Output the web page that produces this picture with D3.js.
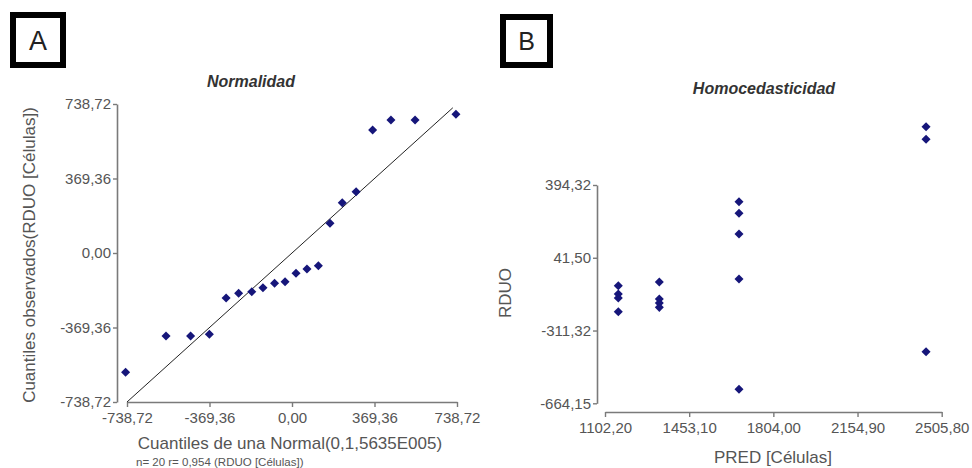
<!DOCTYPE html>
<html><head><meta charset="utf-8">
<script src="https://cdn.jsdelivr.net/npm/d3@7"></script>
<style>body{margin:0;background:#fff}svg{display:block}text{font-family:"Liberation Sans",Arial,sans-serif}</style>
</head><body><svg id="c" width="972" height="468"></svg>
<script>
// Panel A: Normal Q-Q plot
const qqTicks = [-738.72, -369.36, 0, 369.36, 738.72];
const qqTheoretical = [-745, -564, -454, -370, -295, -239, -180, -130, -78, -31, 18, 67, 118, 170, 225, 287, 361, 443, 551, 734];
const qqObserved = [-591, -411, -411, -403, -223, -200, -192, -172, -150, -142, -100, -79, -63, 147, 249, 304, 610, 659, 659, 688];
// Panel B: residuals vs predicted
const predTicks = [1102.20, 1453.10, 1804.00, 2154.90, 2505.80];
const rduoTicks = [-664.15, -311.32, 41.50, 394.32];
const predValues = [1157.6, 1157.6, 1157.6, 1157.6, 1328.6, 1328.6, 1328.6, 1328.6, 1660.8, 1660.8, 1660.8, 1660.8, 1660.8, 2440.5, 2440.5, 2440.5];
const rduoValues = [-94, -134, -154, -220, -76, -158, -178, -199, 313, 257, 157, -61, -596, 677, 616, -414];

const svg = d3.select("#c");
const loc = d3.formatLocale({decimal: ",", thousands: ".", grouping: [3], currency: ["", ""], minus: "-"});
const fmt = loc.format(".2f");
const markColor = "#16167a";
const axisColor = "#7a7a7a";
const labelColor = "#555555";
const diamond = d3.symbol().type(d3.symbolDiamond2).size(52);

function styleAxis(g) {
  g.selectAll(".domain").attr("stroke", axisColor).attr("stroke-width", 1.6);
  g.selectAll(".tick line").attr("stroke", axisColor).attr("stroke-width", 1.4);
  g.selectAll(".tick text").attr("fill", labelColor).style("font-size", "15px").style("font-family", "'Liberation Sans', Arial, sans-serif");
}

// Label boxes
function labelBox(x, y, w, h, letter, fs) {
  svg.append("rect").attr("x", x).attr("y", y).attr("width", w).attr("height", h)
    .attr("fill", "none").attr("stroke", "#000").attr("stroke-width", 6);
  svg.append("text").attr("x", x + w / 2).attr("y", y + h / 2 + fs * 0.36).attr("text-anchor", "middle")
    .style("font-size", fs + "px").attr("fill", "#222").text(letter);
}
labelBox(13, 15, 50, 50, "A", 27);
labelBox(503, 17, 47, 48, "B", 25);

// ---- Panel A ----
const xA = d3.scaleLinear().domain([-738.72, 738.72]).range([127, 457]);
const yA = d3.scaleLinear().domain([-738.72, 738.72]).range([402, 104]);

svg.append("g").attr("transform", "translate(117,0)")
  .call(d3.axisLeft(yA).tickValues(qqTicks).tickFormat(fmt).tickSize(4).tickSizeOuter(0).tickPadding(2))
  .call(styleAxis);
svg.append("g").attr("transform", "translate(0,402)")
  .call(d3.axisBottom(xA).tickValues(qqTicks).tickFormat(fmt).tickSize(5).tickSizeOuter(0).tickPadding(5))
  .call(styleAxis);

svg.append("line")
  .attr("x1", xA(-738.72)).attr("y1", yA(-738.72))
  .attr("x2", xA(720)).attr("y2", yA(720))
  .attr("stroke", "#222").attr("stroke-width", 1);

svg.append("g").selectAll("path").data(qqTheoretical).join("path")
  .attr("d", diamond)
  .attr("transform", (d, i) => `translate(${xA(d)},${yA(qqObserved[i])})`)
  .attr("fill", markColor);

svg.append("text").attr("x", 251).attr("y", 87).attr("text-anchor", "middle")
  .style("font-size", "16px").style("font-weight", "bold").style("font-style", "italic")
  .attr("fill", "#333").text("Normalidad");
svg.append("text").attr("x", 290).attr("y", 449).attr("text-anchor", "middle")
  .style("font-size", "17px").attr("fill", labelColor).text("Cuantiles de una Normal(0,1,5635E005)");
svg.append("text").attr("x", 136).attr("y", 466).attr("text-anchor", "start")
  .style("font-size", "11.5px").attr("fill", labelColor).text("n= 20 r= 0,954 (RDUO [Células])");
svg.append("text").attr("transform", "translate(35,255) rotate(-90)").attr("text-anchor", "middle")
  .style("font-size", "17px").attr("fill", labelColor).text("Cuantiles observados(RDUO [Células])");

// ---- Panel B ----
const xB = d3.scaleLinear().domain([1102.2, 2505.8]).range([605, 941.7]);
const yB = d3.scaleLinear().domain([-664.15, 394.32]).range([403.3, 185]);

svg.append("g").attr("transform", "translate(597,0)")
  .call(d3.axisLeft(yB).tickValues(rduoTicks).tickFormat(fmt).tickSize(4).tickSizeOuter(0).tickPadding(2))
  .call(styleAxis);
svg.append("g").attr("transform", "translate(0,412)")
  .call(d3.axisBottom(xB).tickValues(predTicks).tickFormat(fmt).tickSize(5).tickSizeOuter(0).tickPadding(5))
  .call(styleAxis);

svg.append("g").selectAll("path").data(predValues).join("path")
  .attr("d", diamond)
  .attr("transform", (d, i) => `translate(${xB(d)},${yB(rduoValues[i])})`)
  .attr("fill", markColor);

svg.append("text").attr("x", 764).attr("y", 94).attr("text-anchor", "middle")
  .style("font-size", "16px").style("font-weight", "bold").style("font-style", "italic")
  .attr("fill", "#333").text("Homocedasticidad");
svg.append("text").attr("x", 773).attr("y", 463).attr("text-anchor", "middle")
  .style("font-size", "17px").attr("fill", labelColor).text("PRED [Células]");
svg.append("text").attr("transform", "translate(511,293) rotate(-90)").attr("text-anchor", "middle")
  .style("font-size", "17px").attr("fill", labelColor).text("RDUO");
</script></body></html>
